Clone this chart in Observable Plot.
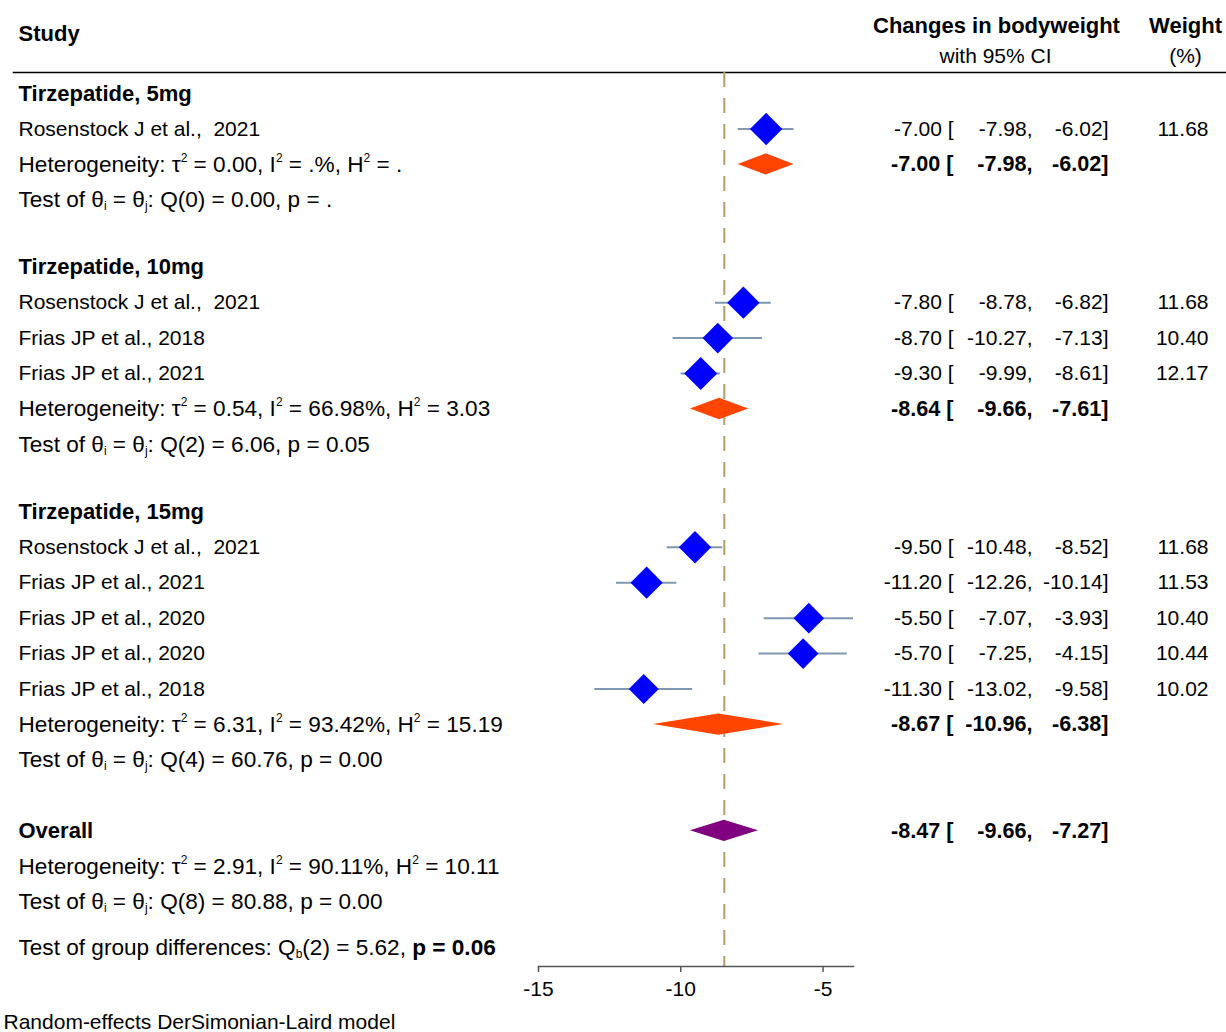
<!DOCTYPE html>
<html><head><meta charset="utf-8">
<script src="https://cdn.jsdelivr.net/npm/d3@7"></script>
<script src="https://cdn.jsdelivr.net/npm/@observablehq/plot@0.6"></script>
<style>
html,body{margin:0;padding:0;background:#fff;}
svg text{white-space:pre;}
</style></head><body><div id="chart"></div>
<script>
// ---------- data ----------
const groupNames = ["Tirzepatide, 5mg", "Tirzepatide, 10mg", "Tirzepatide, 15mg"];
const studyNames = ["Rosenstock J et al.,  2021", "Rosenstock J et al.,  2021", "Frias JP et al., 2018", "Frias JP et al., 2021",
  "Rosenstock J et al.,  2021", "Frias JP et al., 2021", "Frias JP et al., 2020", "Frias JP et al., 2020", "Frias JP et al., 2018"];
const studyGroup = [0, 1, 1, 1, 2, 2, 2, 2, 2];
const studyEst = [-7.00, -7.80, -8.70, -9.30, -9.50, -11.20, -5.50, -5.70, -11.30];
const studyLo = [-7.98, -8.78, -10.27, -9.99, -10.48, -12.26, -7.07, -7.25, -13.02];
const studyHi = [-6.02, -6.82, -7.13, -8.61, -8.52, -10.14, -3.93, -4.15, -9.58];
const studyWeight = [11.68, 11.68, 10.40, 12.17, 11.68, 11.53, 10.40, 10.44, 10.02];
const groupEst = [-7.00, -8.64, -8.67];
const groupLo = [-7.98, -9.66, -10.96];
const groupHi = [-6.02, -7.61, -6.38];
const groupHet = [
  "Heterogeneity: τ^{2} = 0.00, I^{2} = .%, H^{2} = .",
  "Heterogeneity: τ^{2} = 0.54, I^{2} = 66.98%, H^{2} = 3.03",
  "Heterogeneity: τ^{2} = 6.31, I^{2} = 93.42%, H^{2} = 15.19"];
const groupTest = [
  "Test of θ_{i} = θ_{j}: Q(0) = 0.00, p = .",
  "Test of θ_{i} = θ_{j}: Q(2) = 6.06, p = 0.05",
  "Test of θ_{i} = θ_{j}: Q(4) = 60.76, p = 0.00"];
const overallLabel = "Overall";
const overallEst = -8.47, overallLo = -9.66, overallHi = -7.27;
const overallHet = "Heterogeneity: τ^{2} = 2.91, I^{2} = 90.11%, H^{2} = 10.11";
const overallTest = "Test of θ_{i} = θ_{j}: Q(8) = 80.88, p = 0.00";
const groupDiffTest = "Test of group differences: Q_{b}(2) = 5.62, **p = 0.06**";
const headerStudy = "Study";
const headerEffect = ["Changes in bodyweight", "with 95% CI"];
const headerWeight = ["Weight", "(%)"];
const footnote = "Random-effects DerSimonian-Laird model";
const xTicks = [-15, -10, -5];

// ---------- row layout ----------
const leftRows = [], studyRows = [], pooledRows = [];
let p = 0;
groupNames.forEach((g, gi) => {
  leftRows.push({pos: p, label: g, kind: "title"});
  studyNames.forEach((s, i) => {
    if (studyGroup[i] !== gi) return;
    p += 1;
    leftRows.push({pos: p, label: s, kind: "study"});
    studyRows.push({pos: p, est: studyEst[i], lo: studyLo[i], hi: studyHi[i], w: studyWeight[i]});
  });
  p += 1;
  leftRows.push({pos: p, label: groupHet[gi], kind: "stat"});
  pooledRows.push({pos: p, est: groupEst[gi], lo: groupLo[gi], hi: groupHi[gi], kind: "group"});
  p += 1;
  leftRows.push({pos: p, label: groupTest[gi], kind: "stat"});
  p += gi < groupNames.length - 1 ? 1.9 : 2.0;
});
leftRows.push({pos: p, label: overallLabel, kind: "title"});
pooledRows.push({pos: p, est: overallEst, lo: overallLo, hi: overallHi, kind: "overall"});
p += 1; leftRows.push({pos: p, label: overallHet, kind: "stat"});
p += 1; leftRows.push({pos: p, label: overallTest, kind: "stat"});
p += 1.3; leftRows.push({pos: p, label: groupDiffTest, kind: "stat"});

const f2 = v => v.toFixed(2);
const rightRows = studyRows.map(d => ({...d, bold: false, weightText: f2(d.w)}))
  .concat(pooledRows.map(d => ({...d, bold: true, weightText: ""})));

const H = 0.3;
const diamondPts = pooledRows.flatMap((d, k) => [
  {id: k, kind: d.kind, y: d.pos - H, x1: d.est, x2: d.est},
  {id: k, kind: d.kind, y: d.pos, x1: d.lo, x2: d.hi},
  {id: k, kind: d.kind, y: d.pos + H, x1: d.est, x2: d.est}
]);

// ---------- plot ----------
const W = 1226, HT = 1032, ML = 538, MR = 373, MT = 72, MB = 66, ROW = 35.45, ROW0 = 93;
const FS = 21, FSB = 22, FSS = 22.6;
const FF = "Liberation Sans, Arial, Helvetica, sans-serif";
const colText = (rows, fmt, dx, bold) => Plot.text(rows.filter(d => d.bold === bold), {
  y: "pos", text: fmt, frameAnchor: "right", dx, textAnchor: "end",
  fontSize: bold ? 21.6 : FS, fontWeight: bold ? "bold" : "normal"
});
const leftText = (kind, size, weight) => Plot.text(leftRows.filter(d => d.kind === kind), {
  y: "pos", text: "label", frameAnchor: "left", dx: 18 - ML, textAnchor: "start", fontSize: size, fontWeight: weight
});
const headText = (txt, anchor, dx, y, bold, align) => Plot.text([txt], {
  text: d => d, frameAnchor: anchor, dx, dy: y, lineAnchor: "middle", textAnchor: align,
  fontSize: bold ? FSB : FS, fontWeight: bold ? "bold" : "normal"
});

const chart = Plot.plot({
  width: W, height: HT,
  marginLeft: ML, marginRight: MR, marginTop: MT, marginBottom: MB,
  style: {fontFamily: FF, fontSize: FS + "px", background: "#fff", color: "#000", overflow: "visible"},
  x: {domain: [d3.min(xTicks), d3.max(studyHi)], axis: null},
  y: {domain: [0, 1], range: [ROW0, ROW0 + ROW], axis: null},
  r: {type: "sqrt", domain: [0, d3.max(studyWeight)], range: [0, 14.9]},
  marks: [
    Plot.frame({anchor: "top", insetLeft: -(ML - 13), insetRight: -MR, stroke: "#000", strokeWidth: 1.6}),
    Plot.ruleX([overallEst], {stroke: "#b39c6c", strokeWidth: 2, strokeDasharray: "15,11"}),
    Plot.ruleY(studyRows, {y: "pos", x1: "lo", x2: "hi", stroke: "#7f97b0", strokeWidth: 2}),
    Plot.dot(studyRows, {x: "est", y: "pos", r: "w", symbol: "diamond2", fill: "#0000ff", stroke: null}),
    Plot.areaX(diamondPts.filter(d => d.kind === "group"), {y: "y", x1: "x1", x2: "x2", z: "id", fill: "#ff4500"}),
    Plot.areaX(diamondPts.filter(d => d.kind === "overall"), {y: "y", x1: "x1", x2: "x2", z: "id", fill: "#800080"}),
    Plot.frame({anchor: "bottom", stroke: "#555", strokeWidth: 1.5}),
    Plot.axisX({ticks: xTicks, tickFormat: d => String(d), tickSize: 6, tickPadding: 9, stroke: "#555", strokeWidth: 1.5, fontSize: FS, label: null}),
    // left column
    leftText("study", FS, "normal"),
    leftText("stat", FSS, "normal"),
    leftText("title", FSB, "bold"),
    // right columns
    colText(rightRows, d => f2(d.est) + " [", 100, false),
    colText(rightRows, d => f2(d.lo) + ",", 179, false),
    colText(rightRows, d => f2(d.hi) + "]", 255, false),
    colText(rightRows, d => d.weightText, 355, false),
    colText(rightRows, d => f2(d.est) + " [", 100, true),
    colText(rightRows, d => f2(d.lo) + ",", 179, true),
    colText(rightRows, d => f2(d.hi) + "]", 255, true),
    // headers
    headText(headerStudy, "top-left", 18 - ML, 33 - MT, true, "start"),
    headText(headerEffect[0], "top-right", 143, 25 - MT, true, "middle"),
    headText(headerEffect[1], "top-right", 142, 56 - MT, false, "middle"),
    headText(headerWeight[0], "top-right", 332, 25 - MT, true, "middle"),
    headText(headerWeight[1], "top-right", 332, 56 - MT, false, "middle"),
    headText(footnote, "bottom-left", 3 - ML, 1022 - (HT - MB), false, "start")
  ]
});

// rich text: ^{sup}, _{sub}, **bold**
d3.select(chart).selectAll("text").each(function() {
  const t = this.textContent;
  if (!/\^\{|_\{|\*\*/.test(t)) return;
  const sel = d3.select(this);
  sel.text(null);
  const parts = t.split(/(\^\{[^}]*\}|_\{[^}]*\}|\*\*[^*]*\*\*)/).filter(s => s.length);
  let shift = 0;
  parts.forEach(s => {
    let txt = s, target = 0, size = null, bold = false;
    if (s.startsWith("^{")) { txt = s.slice(2, -1); target = -10; size = 12; }
    else if (s.startsWith("_{")) { txt = s.slice(2, -1); target = 3; size = 12; }
    else if (s.startsWith("**")) { txt = s.slice(2, -2); bold = true; }
    const ts = sel.append("tspan").text(txt);
    if (target - shift !== 0) ts.attr("dy", target - shift);
    shift = target;
    if (size) ts.attr("font-size", size);
    if (bold) ts.attr("font-weight", "bold");
  });
});

document.getElementById("chart").appendChild(chart);
</script></body></html>
